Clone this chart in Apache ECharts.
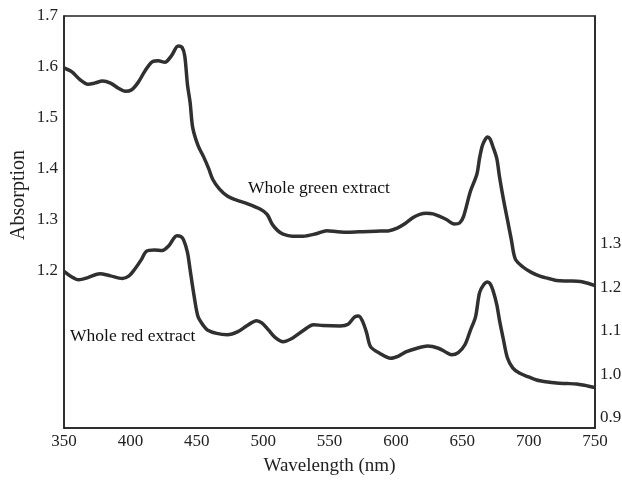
<!DOCTYPE html>
<html>
<head>
<meta charset="utf-8">
<script src="https://cdn.jsdelivr.net/npm/echarts@6/dist/echarts.min.js"></script>
<style>html,body{margin:0;padding:0;background:#fff}#c{width:622px;height:480px}</style>
</head>
<body>
<div id="c"></div>
<script>
// Whole green extract (left axis)
const greenWl = [350,356,362,368,373,379,385,391,396,401,406,411,417,421,426,431,436,439,441,443,445,447,451,455,459,462,467,473,480,488,498,503,507,511,515,522,530,540,548,556,565,575,585,595,601,607,613,618,623,628,633,638,644,648,651,656,661,663,665,667,669,671,673,676,678,681,684,687,690,696,702,709,715,721,730,739,744,750];
const greenAbs = [1.598,1.590,1.575,1.566,1.568,1.572,1.568,1.558,1.552,1.555,1.570,1.592,1.611,1.612,1.609,1.622,1.641,1.638,1.621,1.565,1.530,1.480,1.445,1.424,1.400,1.379,1.360,1.346,1.338,1.331,1.320,1.310,1.290,1.278,1.271,1.267,1.267,1.272,1.278,1.276,1.275,1.276,1.277,1.278,1.283,1.292,1.304,1.310,1.312,1.311,1.306,1.300,1.291,1.293,1.306,1.354,1.389,1.420,1.444,1.456,1.462,1.458,1.444,1.420,1.385,1.340,1.300,1.260,1.222,1.206,1.196,1.188,1.184,1.180,1.179,1.178,1.175,1.170];
// Whole red extract (right axis)
const redWl = [350,355,361,368,377,385,394,399,403,408,412,418,424,429,435,438,440,443,445,448,451,455,458,465,473,481,488,495,499,504,509,515,522,530,538,545,558,564,569,572,575,578,581,588,596,602,608,616,624,632,637,642,647,652,656,660,663,666,669,671,673,676,678,681,684,688,693,700,706,713,721,729,736,742,748,750];
const redAbs = [1.236,1.225,1.217,1.222,1.231,1.226,1.220,1.226,1.240,1.262,1.282,1.285,1.284,1.295,1.318,1.316,1.309,1.280,1.240,1.180,1.132,1.112,1.102,1.094,1.091,1.098,1.112,1.123,1.118,1.102,1.085,1.075,1.083,1.100,1.114,1.112,1.111,1.115,1.132,1.134,1.121,1.095,1.063,1.048,1.037,1.042,1.052,1.060,1.065,1.060,1.052,1.045,1.050,1.068,1.100,1.132,1.187,1.205,1.212,1.208,1.194,1.160,1.125,1.080,1.038,1.015,1.003,0.994,0.987,0.983,0.980,0.979,0.978,0.975,0.971,0.970];
const xTitle = 'Wavelength (nm)';
const yTitle = 'Absorption';
const greenName = 'Whole green extract';
const redName = 'Whole red extract';

const font = 'Liberation Serif';
const chart = echarts.init(document.getElementById('c'));
const lineColor = '#303030';
chart.setOption({
  animation: false,
  backgroundColor: '#fff',
  grid: { left: 64, right: 27, top: 16, bottom: 52, outerBoundsMode: 'none', containLabel: false,
          show: true, borderColor: '#222', borderWidth: 1.5 },
  xAxis: {
    type: 'value', min: 350, max: 750, interval: 50,
    axisLine: { show: true, lineStyle: { color: '#222', width: 1.5 } },
    axisTick: { show: false }, splitLine: { show: false },
    axisLabel: { fontFamily: font, fontSize: 17, color: '#222', margin: 5 },
    name: xTitle, nameLocation: 'middle', nameGap: 29,
    nameTextStyle: { fontFamily: font, fontSize: 19, color: '#222', verticalAlign: 'top' }
  },
  yAxis: [{
    type: 'value', min: 0.89, max: 1.7, splitNumber: 8,
    axisLine: { show: true, lineStyle: { color: '#222', width: 1.5 } },
    axisTick: { show: false }, splitLine: { show: false },
    axisLabel: { fontFamily: font, fontSize: 17, color: '#222', margin: 6,
      formatter: v => (v > 1.15 && v < 1.75) ? v.toFixed(1) : '' }
  }, {
    type: 'value', min: 0.877, max: 1.822, splitNumber: 9, position: 'right',
    axisLine: { show: true, lineStyle: { color: '#222', width: 1.5 } },
    axisTick: { show: false }, splitLine: { show: false },
    axisLabel: { fontFamily: font, fontSize: 17, color: '#222', margin: 5,
      formatter: v => (v > 0.85 && v < 1.35) ? v.toFixed(1) : '' }
  }],
  series: [{
    type: 'line', name: greenName, yAxisIndex: 0, showSymbol: false, smooth: 0.3,
    lineStyle: { color: lineColor, width: 3.5 },
    data: greenWl.map((w, i) => [w, greenAbs[i]])
  }, {
    type: 'line', name: redName, yAxisIndex: 1, showSymbol: false, smooth: 0.3,
    lineStyle: { color: lineColor, width: 3.5 },
    data: redWl.map((w, i) => [w, redAbs[i]])
  }],
  graphic: [
    { type: 'text', x: 19, y: 195, rotation: Math.PI / 2,
      style: { text: yTitle, fontFamily: font, fontSize: 20, fill: '#222', align: 'center', verticalAlign: 'middle' } },
    { type: 'text', left: 248, top: 179, style: { text: greenName, fontFamily: font, fontSize: 17.5, fill: '#111' } },
    { type: 'text', left: 70, top: 327, style: { text: redName, fontFamily: font, fontSize: 17.5, fill: '#111' } }
  ]
});
</script>
</body>
</html>
